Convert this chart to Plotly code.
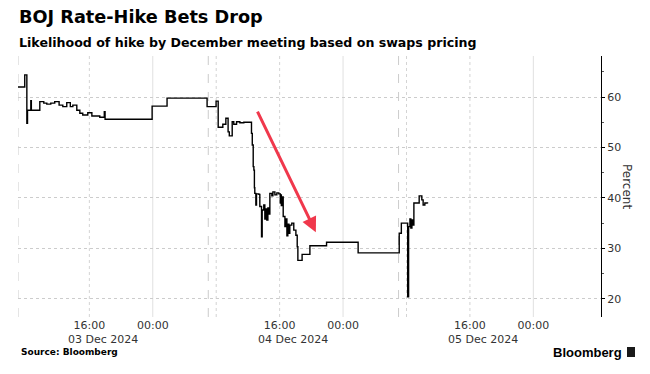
import plotly.graph_objects as go

# ---------------- data ----------------
times = [
    "2024-12-02 07:00", "2024-12-02 07:51", "2024-12-02 08:07", "2024-12-02 08:12",
    "2024-12-02 08:37", "2024-12-02 08:41", "2024-12-02 09:45", "2024-12-02 10:15",
    "2024-12-02 10:38", "2024-12-02 11:08", "2024-12-02 11:38", "2024-12-02 12:11",
    "2024-12-02 12:39", "2024-12-02 13:09", "2024-12-02 13:36", "2024-12-02 13:55",
    "2024-12-02 14:25", "2024-12-02 14:48", "2024-12-02 15:10", "2024-12-02 15:48",
    "2024-12-02 16:19", "2024-12-02 17:19", "2024-12-02 17:53", "2024-12-02 17:59",
    "2024-12-02 23:55", "2024-12-03 01:48", "2024-12-03 06:51", "2024-12-03 07:59",
    "2024-12-03 08:15", "2024-12-03 08:50", "2024-12-03 09:13", "2024-12-03 09:30",
    "2024-12-03 09:39", "2024-12-03 10:01", "2024-12-03 10:13", "2024-12-03 10:34",
    "2024-12-03 10:59", "2024-12-03 11:29", "2024-12-03 12:27", "2024-12-03 12:33",
    "2024-12-03 12:40", "2024-12-03 12:45", "2024-12-03 12:49", "2024-12-03 12:52",
    "2024-12-03 13:00", "2024-12-03 13:05", "2024-12-03 13:23", "2024-12-03 13:30",
    "2024-12-03 13:43", "2024-12-03 13:48", "2024-12-03 14:00", "2024-12-03 14:08",
    "2024-12-03 14:16", "2024-12-03 14:23", "2024-12-03 14:31", "2024-12-03 14:38",
    "2024-12-03 14:46", "2024-12-03 15:01", "2024-12-03 15:09", "2024-12-03 15:24",
    "2024-12-03 15:39", "2024-12-03 15:54", "2024-12-03 16:05", "2024-12-03 16:09",
    "2024-12-03 16:13", "2024-12-03 16:17", "2024-12-03 16:27", "2024-12-03 16:40",
    "2024-12-03 16:47", "2024-12-03 16:55", "2024-12-03 17:02", "2024-12-03 17:10",
    "2024-12-03 17:17", "2024-12-03 17:32", "2024-12-03 17:47", "2024-12-03 18:03",
    "2024-12-03 18:13", "2024-12-03 18:18", "2024-12-03 18:50", "2024-12-03 19:49",
    "2024-12-03 21:55", "2024-12-04 01:54", "2024-12-04 07:05", "2024-12-04 07:21",
    "2024-12-04 08:09", "2024-12-04 08:16", "2024-12-04 08:26", "2024-12-04 08:33",
    "2024-12-04 08:41", "2024-12-04 08:48", "2024-12-04 08:56", "2024-12-04 09:36",
    "2024-12-04 09:56", "2024-12-04 10:06", "2024-12-04 10:19", "2024-12-04 10:39",
]
hike_probability = [
    62.0, 64.4, 54.8, 57.4,
    59.3, 57.4, 59.1, 58.8,
    58.6, 58.8, 59.1, 58.4,
    58.1, 58.9, 58.1, 58.4,
    57.4, 56.8, 56.45, 56.9,
    56.25, 56.0, 57.1, 55.6,
    58.2, 59.8, 58.1, 59.2,
    54.0, 54.6, 55.8, 53.1,
    52.3, 55.1, 54.6, 55.1,
    54.9, 55.0, 52.8, 50.5,
    46.2, 45.5, 42.0, 40.9,
    38.6, 40.8, 40.7, 38.3,
    32.3, 37.6, 38.6, 35.8,
    37.8, 35.6, 38.0, 36.8,
    40.9, 40.4, 41.2, 40.6,
    41.0, 40.8, 39.0, 40.6,
    38.5, 40.2, 36.3, 34.3,
    35.8, 32.5, 34.8, 33.0,
    34.6, 35.0, 33.6, 32.6,
    30.3, 27.6, 28.8, 30.5,
    31.2, 29.1, 33.0, 35.0,
    20.4, 34.3, 35.8, 34.0,
    35.6, 34.6, 39.0, 40.4,
    39.6, 38.6, 39.0, 38.9,
]

tick_times = ["2024-12-02 16:00", "2024-12-03 00:00", "2024-12-03 16:00",
              "2024-12-04 00:00", "2024-12-04 16:00", "2024-12-05 00:00"]
tick_labels = ["16:00", "00:00", "16:00", "00:00", "16:00", "00:00"]
date_label_times = ["2024-12-02 17:40", "2024-12-03 17:40", "2024-12-04 17:40"]
date_labels = ["03 Dec 2024", "04 Dec 2024", "05 Dec 2024"]

session_breaks = ["2024-12-02 07:00", "2024-12-03 07:00", "2024-12-04 07:00"]
dotted_times = ["2024-12-02 16:00", "2024-12-03 08:00", "2024-12-03 16:00",
                "2024-12-04 08:00", "2024-12-04 16:00"]
midnight_times = ["2024-12-03 00:00", "2024-12-04 00:00", "2024-12-05 00:00"]

y_ticks = [20, 30, 40, 50, 60]
arrow_tail = ("2024-12-03 13:07", 57.4)
arrow_head = ("2024-12-03 20:34", 33.2)

x_range = ["2024-12-02 07:00", "2024-12-05 08:32"]
y_range = [16.37, 68.15]

# ---------------- layout helpers ----------------
W, H = 650, 374
L, R, T, B = 18, 49, 56, 57
PH = H - T - B
PW = W - L - R


def py(px):
    return (H - B - px) / PH


def pxx(px):
    return (px - L) / PW


FONT = "DejaVu Sans"
TXT = "#333333"

fig = go.Figure()
fig.add_trace(go.Scatter(
    x=times, y=hike_probability, mode="lines",
    line=dict(color="#000000", width=1.4, shape="hv"),
    hoverinfo="skip", showlegend=False,
))

shapes = []
for t in session_breaks:
    shapes.append(dict(type="line", xref="x", yref="paper", x0=t, x1=t, y0=0, y1=1,
                       line=dict(color="#cccccc", width=1, dash="dash"), layer="below"))
for t in dotted_times:
    shapes.append(dict(type="line", xref="x", yref="paper", x0=t, x1=t, y0=0, y1=1,
                       line=dict(color="#d4d4d4", width=1, dash="dot"), layer="below"))
for t in midnight_times:
    shapes.append(dict(type="line", xref="x", yref="paper", x0=t, x1=t, y0=0, y1=1,
                       line=dict(color="#e0e0e0", width=1), layer="below"))
# Bloomberg logo mark
shapes.append(dict(type="rect", xref="paper", yref="paper",
                   x0=pxx(627), x1=pxx(635), y0=py(357), y1=py(347),
                   fillcolor="#1a1a1a", line=dict(width=0)))

annotations = [
    dict(text="<b>BOJ Rate-Hike Bets Drop</b>", xref="paper", yref="paper",
         x=pxx(17), y=py(17), xanchor="left", yanchor="middle", showarrow=False,
         font=dict(family=FONT, size=17.7, color="#000000")),
    dict(text="<b>Likelihood of hike by December meeting based on swaps pricing</b>",
         xref="paper", yref="paper", x=pxx(17), y=py(42), xanchor="left",
         yanchor="middle", showarrow=False,
         font=dict(family=FONT, size=12.6, color="#000000")),
    dict(text="<b>Source: Bloomberg</b>", xref="paper", yref="paper",
         x=pxx(19), y=py(352), xanchor="left", yanchor="middle", showarrow=False,
         font=dict(family=FONT, size=9, color="#000000")),
    dict(text="<b>Bloomberg</b>", xref="paper", yref="paper",
         x=pxx(624), y=py(352), xanchor="right", yanchor="middle", showarrow=False,
         font=dict(family="Liberation Sans", size=13, color="#000000")),
    dict(text="Percent", xref="paper", yref="paper", x=pxx(627), y=py(187),
         xanchor="center", yanchor="middle", textangle=90, showarrow=False,
         font=dict(family=FONT, size=12, color=TXT)),
    dict(x=arrow_head[0], y=arrow_head[1], ax=arrow_tail[0], ay=arrow_tail[1],
         xref="x", yref="y", axref="x", ayref="y", text="", showarrow=True,
         arrowhead=2, arrowsize=1, arrowwidth=3, arrowcolor="#f0384c"),
]
for t, lab in zip(date_label_times, date_labels):
    annotations.append(dict(text=lab, xref="x", yref="paper", x=t, y=py(339),
                            xanchor="center", yanchor="middle", showarrow=False,
                            font=dict(family=FONT, size=11, color=TXT)))

fig.update_layout(
    width=W, height=H,
    margin=dict(l=L, r=R, t=T, b=B),
    paper_bgcolor="#ffffff", plot_bgcolor="#ffffff",
    shapes=shapes, annotations=annotations,
    xaxis=dict(
        type="date", range=x_range, showgrid=False, zeroline=False,
        tickmode="array", tickvals=tick_times, ticktext=tick_labels,
        ticks="", showline=False,
        tickfont=dict(family=FONT, size=11, color=TXT),
    ),
    yaxis=dict(
        side="right", range=y_range, tickmode="array", tickvals=y_ticks,
        showgrid=True, gridcolor="#cccccc", griddash="dot", gridwidth=1,
        zeroline=False, showline=True, linecolor="#000000", linewidth=1,
        ticks="outside", ticklen=3, tickcolor="#000000",
        minor=dict(tickmode="linear", tick0=15, dtick=10, ticks="outside",
                   ticklen=2, tickcolor="#555555", showgrid=False),
        tickfont=dict(family=FONT, size=11, color=TXT),
    ),
)

# the page body has a default 8px margin; remove it so the figure sits at the corner
fig.write_html("out.html", config={"displayModeBar": False},
               post_script="document.body.style.margin='0';")
